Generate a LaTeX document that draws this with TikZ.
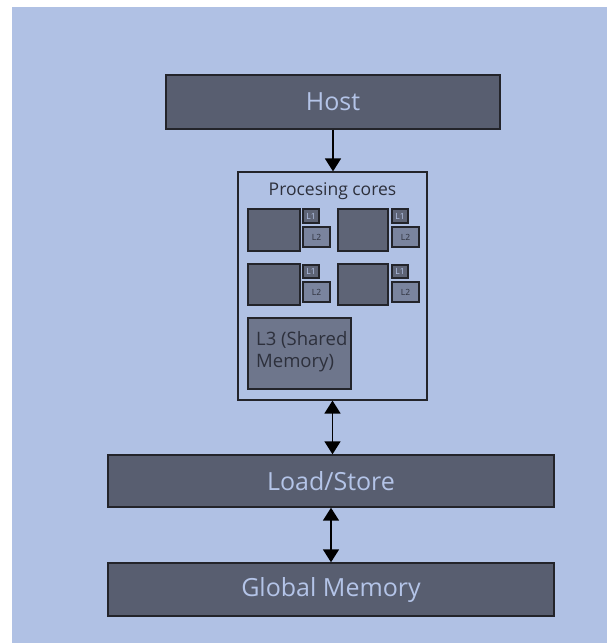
\documentclass[tikz,border=0pt]{standalone}
\usepackage{fontspec}
\setmainfont{Open Sans}
\usetikzlibrary{arrows.meta}
\definecolor{bgc}{RGB}{176,193,228}
\definecolor{darkbox}{RGB}{88,94,112}
\definecolor{edgec}{RGB}{35,36,42}
\definecolor{lighttext}{RGB}{180,196,232}
\definecolor{corefill}{RGB}{94,100,118}
\definecolor{lthree}{RGB}{110,118,140}
\definecolor{cachefill}{RGB}{122,132,158}
\definecolor{darktext}{RGB}{45,48,60}
\tikzset{
  bigbox/.style={draw=edgec, line width=1.4pt, fill=darkbox, text=lighttext, font=\fontsize{25}{28}\selectfont, inner sep=0pt},
  corebox/.style={draw=edgec, line width=1.2pt, fill=corefill, inner sep=0pt},
  cachebox/.style={draw=edgec, line width=1.2pt, fill=cachefill, inner sep=0pt, text=darktext, font=\fontsize{8.5}{9}\selectfont},
  link/.style={line width=1.6pt, draw=black},
  mytip/.tip={Triangle[width=16pt,length=13pt]}
}
\begin{document}
\begin{tikzpicture}[x=1pt,y=-1pt]
\useasboundingbox (0,0) rectangle (609,643);
\fill[white] (0,0) rectangle (609,643);
\fill[bgc] (12,7) rectangle (607,643);
% main boxes
\node[bigbox, minimum width=334pt, minimum height=54pt] (host) at (333,102) {Host};
\node[draw=edgec, line width=1.2pt, fill=bgc, minimum width=189pt, minimum height=228pt, inner sep=0pt] (proc) at (332.5,286) {};
\node[text=darktext, font=\fontsize{17.5}{20}\selectfont, inner sep=0pt] (title) at (332.5,191) {Procesing cores};
\node[bigbox, minimum width=446pt, minimum height=52pt] (ls) at (331,481) {Load/Store};
\node[bigbox, minimum width=446pt, minimum height=53pt] (gm) at (331,589.5) {Global Memory};
% cores
\node[corebox, minimum width=52pt, minimum height=42pt] (c1) at (274,230) {};
\node[corebox, minimum width=50pt, minimum height=42pt] (c2) at (363,230) {};
\node[corebox, minimum width=52pt, minimum height=41pt] (c3) at (274,284.5) {};
\node[corebox, minimum width=50pt, minimum height=41pt] (c4) at (363,284.5) {};
% caches
\node[cachebox, fill=corefill, text=lighttext, minimum width=16pt, minimum height=14pt] (a1) at (311,216) {L1};
\node[cachebox, minimum width=27pt, minimum height=20pt] (b1) at (316.5,237) {L2};
\node[cachebox, fill=corefill, text=lighttext, minimum width=16pt, minimum height=14pt] (a2) at (400,216) {L1};
\node[cachebox, minimum width=27pt, minimum height=20pt] (b2) at (405.5,237) {L2};
\node[cachebox, fill=corefill, text=lighttext, minimum width=16pt, minimum height=13pt] (a3) at (311,271.5) {L1};
\node[cachebox, minimum width=27pt, minimum height=20pt] (b3) at (316.5,292) {L2};
\node[cachebox, fill=corefill, text=lighttext, minimum width=16pt, minimum height=13pt] (a4) at (400,271.5) {L1};
\node[cachebox, minimum width=27pt, minimum height=20pt] (b4) at (405.5,292) {L2};
% L3
\node[draw=edgec, line width=1.2pt, fill=lthree, minimum width=103pt, minimum height=71pt, inner sep=0pt] (l3) at (299.5,353.5) {};
\node[anchor=west, align=left, text=darktext, font=\fontsize{18.5}{22}\selectfont, inner sep=0pt] (l3t) at (256,352) {L3 (Shared\\Memory)};
% connectors
\draw[link, -{mytip}] (host.south) -- (host.south |- proc.north);
\draw[link, {mytip}-{mytip}] (proc.south) -- (proc.south |- ls.north);
\draw[link, {mytip}-{mytip}] (gm.north) -- (ls.south);
\end{tikzpicture}
\end{document}
